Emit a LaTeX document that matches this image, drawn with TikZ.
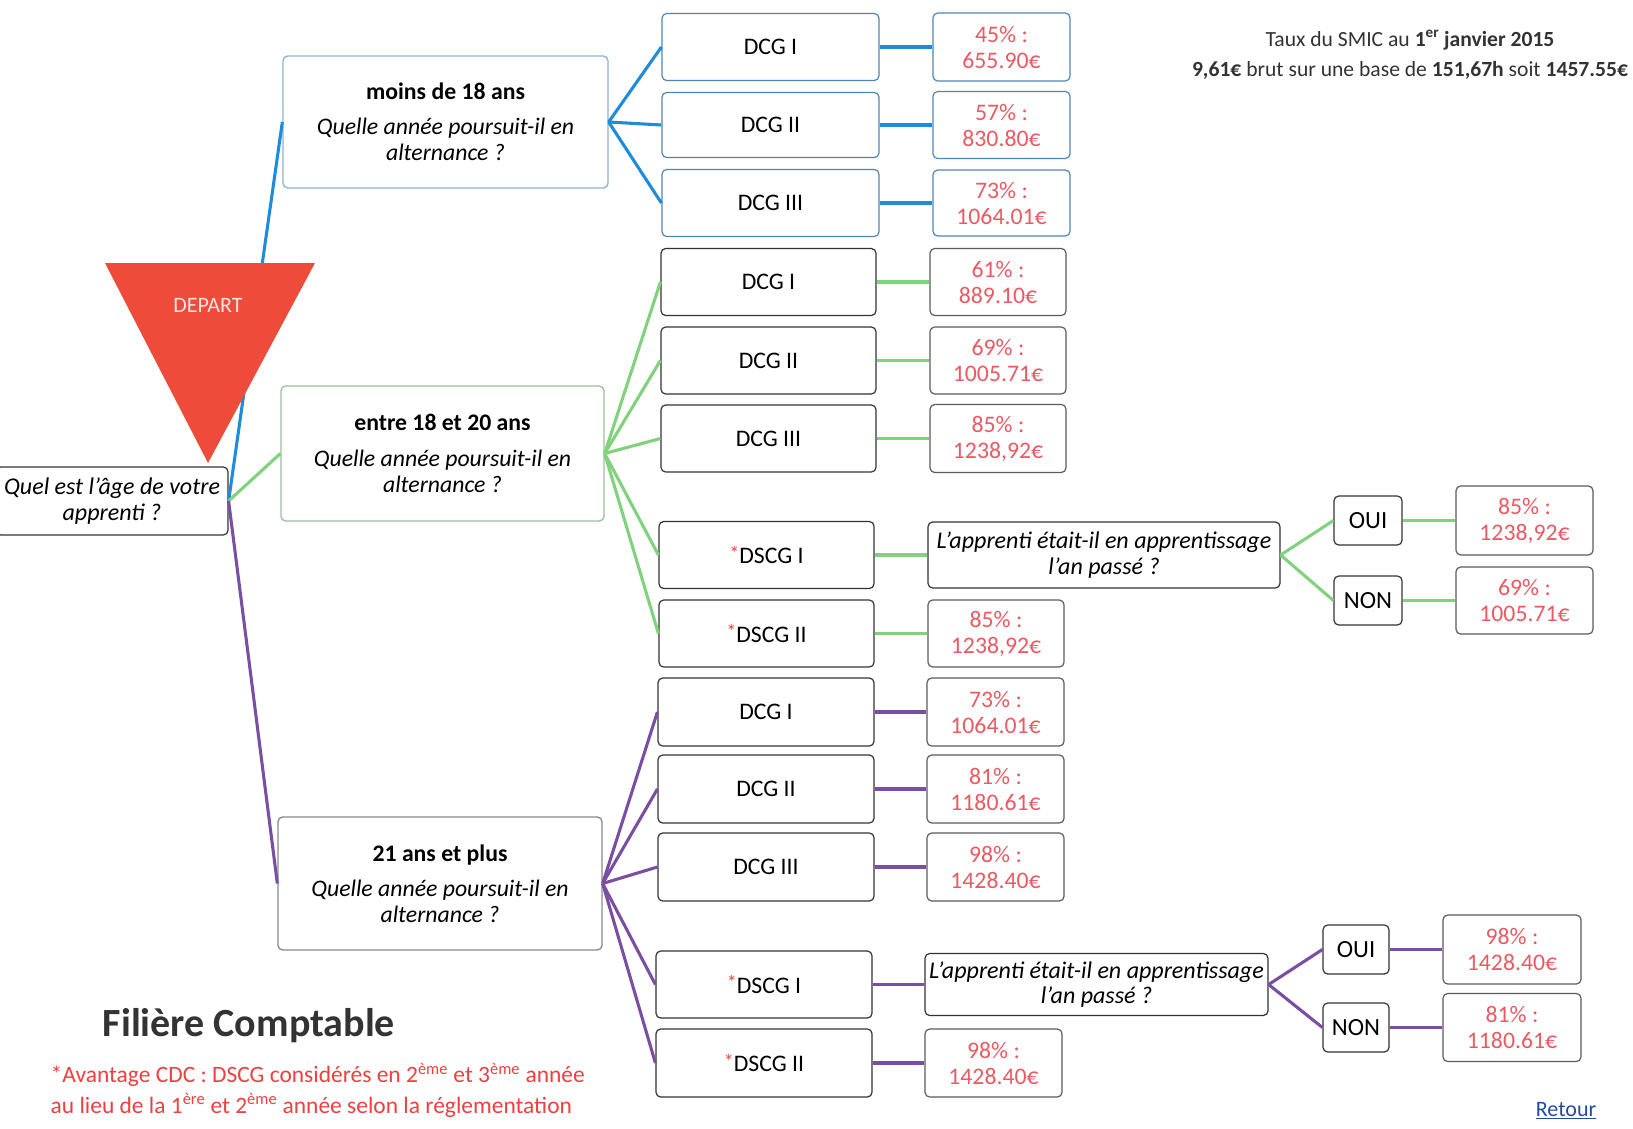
\documentclass[tikz,border=0pt]{standalone}
\usepackage{fontspec}
\setmainfont{Carlito}
\usetikzlibrary{calc}
\definecolor{cblue}{HTML}{1E8BDB}
\definecolor{cgreen}{HTML}{80D27C}
\definecolor{cpurple}{HTML}{7A4FA3}
\definecolor{cres}{HTML}{EA5A63}
\definecolor{cnote}{HTML}{EE4040}
\definecolor{ctri}{HTML}{EE4B3A}
\definecolor{bblue}{HTML}{4F86B5}
\definecolor{lblue}{HTML}{8DB3CF}
\definecolor{lgreen}{HTML}{9DBF9D}
\definecolor{lgray}{HTML}{8A8A8A}
\definecolor{dgray}{HTML}{333333}
\definecolor{cretour}{HTML}{1F4E9C}
\newcommand{\redstar}{\textcolor{cnote}{\raisebox{2.5pt}{\fontsize{15}{15}\selectfont *}}}
\begin{document}
\begin{tikzpicture}[x=0.75pt,y=-0.75pt,
  box/.style={draw=dgray, rounded corners=3.5pt, line width=0.9pt, inner sep=0pt, align=center,
    fill=white, font=\fontsize{17.8}{19.5}\selectfont},
  sz/.style 2 args={minimum width=#1*0.75pt, minimum height=#2*0.75pt},
  lvone/.style={box, line width=1pt},
  res/.style={box, text=cres, font=\fontsize{17.8}{19.5}\selectfont, draw=dgray!80},
  ynbox/.style={box, font=\fontsize{18.5}{19}\selectfont},
  qbox/.style={box, font=\itshape\fontsize{18}{19}\selectfont},
  bl/.style={draw=cblue, line width=2.3pt},
  gr/.style={draw=cgreen, line width=2.3pt},
  pu/.style={draw=cpurple, line width=2.3pt},
]
\useasboundingbox (0,0) rectangle (1633,1128);
\fill[white] (0,0) rectangle (1633,1128);

% ---------- root ----------
\node[qbox, sz={232}{68}] (root) at (112,501) {Quel est l'âge de votre\\apprenti ?};

% ---------- level 1 ----------
\node[lvone, draw=lblue, sz={325}{132}] (la) at (445.5,122)
  {\textbf{moins de 18 ans}\\[7pt]\textit{Quelle année poursuit-il en}\\\textit{alternance ?}};
\node[lvone, draw=lgreen, sz={323}{135}] (lb) at (442.5,453.5)
  {\textbf{entre 18 et 20 ans}\\[7pt]\textit{Quelle année poursuit-il en}\\\textit{alternance ?}};
\node[lvone, draw=lgray, sz={324}{133}] (lc) at (440,883.5)
  {\textbf{21 ans et plus}\\[7pt]\textit{Quelle année poursuit-il en}\\\textit{alternance ?}};

% ---------- blue group ----------
\node[box, draw=bblue, sz={217}{67}] (a1) at (770.5,47) {DCG I};
\node[box, draw=bblue, sz={217}{65}] (a2) at (770.5,125) {DCG II};
\node[box, draw=bblue, sz={217}{67}] (a3) at (770.5,203) {DCG III};
\node[res, draw=bblue, sz={137}{68}] (ra1) at (1001.5,47) {45\% :\\655.90€};
\node[res, draw=bblue, sz={137}{67}] (ra2) at (1001.5,125) {57\% :\\830.80€};
\node[res, draw=bblue, sz={137}{66}] (ra3) at (1001.5,203) {73\% :\\1064.01€};

% ---------- green group ----------
\node[box, sz={215}{67}] (b1) at (768.5,282) {DCG I};
\node[box, sz={215}{67}] (b2) at (768.5,360.5) {DCG II};
\node[box, sz={215}{67}] (b3) at (768.5,438.5) {DCG III};
\node[box, sz={215}{67}] (b4) at (766.5,555) {\redstar DSCG I};
\node[box, sz={215}{67}] (b5) at (766.5,633.5) {\redstar DSCG II};
\node[res, sz={136}{67}] (rb1) at (998,282) {61\% :\\889.10€};
\node[res, sz={136}{67}] (rb2) at (998,360.5) {69\% :\\1005.71€};
\node[res, sz={136}{68}] (rb3) at (998,438.5) {85\% :\\1238,92€};
\node[qbox, sz={352}{66}] (qb) at (1104,555) {L'apprenti était-il en apprentissage\\l'an passé ?};
\node[ynbox, sz={68}{49}] (ob) at (1368,520.5) {OUI};
\node[ynbox, sz={68}{49}] (nb) at (1368,600.5) {NON};
\node[res, sz={137}{69}] (rob) at (1524.5,520.5) {85\% :\\1238,92€};
\node[res, sz={137}{67}] (rnb) at (1524.5,600.5) {69\% :\\1005.71€};
\node[res, sz={136}{67}] (rb5) at (996,633.5) {85\% :\\1238,92€};

% ---------- purple group ----------
\node[box, sz={216}{68}] (c1) at (766,712) {DCG I};
\node[box, sz={216}{68}] (c2) at (766,789) {DCG II};
\node[box, sz={216}{68}] (c3) at (766,867) {DCG III};
\node[box, sz={216}{67}] (c4) at (764,984.5) {\redstar DSCG I};
\node[box, sz={216}{68}] (c5) at (764,1063) {\redstar DSCG II};
\node[res, sz={137}{68}] (rc1) at (995.5,712) {73\% :\\1064.01€};
\node[res, sz={137}{68}] (rc2) at (995.5,789) {81\% :\\1180.61€};
\node[res, sz={137}{68}] (rc3) at (995.5,867) {98\% :\\1428.40€};
\node[qbox, sz={343}{62}] (qc) at (1096.5,984.5) {L'apprenti était-il en apprentissage\\l'an passé ?};
\node[ynbox, sz={66}{49}] (oc) at (1356,949.5) {OUI};
\node[ynbox, sz={66}{49}] (nc) at (1356,1027.5) {NON};
\node[res, sz={138}{69}] (roc) at (1512,949.5) {98\% :\\1428.40€};
\node[res, sz={138}{68}] (rnc) at (1512,1027.5) {81\% :\\1180.61€};
\node[res, sz={137}{68}] (rc5) at (993.5,1063) {98\% :\\1428.40€};

% ---------- connectors ----------
\draw[bl] (root.east) -- (la.west);
\draw[gr] (root.east) -- (lb.west);
\draw[pu] (root.east) -- (lc.west);

\foreach \n in {a1,a2,a3} \draw[bl] (la.east) -- (\n.west);
\draw[bl] (a1.east) -- (ra1.west);
\draw[bl] (a2.east) -- (ra2.west);
\draw[bl] (a3.east) -- (ra3.west);

\foreach \n in {b1,b2,b3,b4,b5} \draw[gr] (lb.east) -- (\n.west);
\draw[gr] (b1.east) -- (rb1.west);
\draw[gr] (b2.east) -- (rb2.west);
\draw[gr] (b3.east) -- (rb3.west);
\draw[gr] (b4.east) -- (qb.west);
\draw[gr] (b5.east) -- (rb5.west);
\draw[gr] (qb.east) -- (ob.west);
\draw[gr] (qb.east) -- (nb.west);
\draw[gr] (ob.east) -- (rob.west);
\draw[gr] (nb.east) -- (rnb.west);

\foreach \n in {c1,c2,c3,c4,c5} \draw[pu] (lc.east) -- (\n.west);
\draw[pu] (c1.east) -- (rc1.west);
\draw[pu] (c2.east) -- (rc2.west);
\draw[pu] (c3.east) -- (rc3.west);
\draw[pu] (c4.east) -- (qc.west);
\draw[pu] (c5.east) -- (rc5.west);
\draw[pu] (qc.east) -- (oc.west);
\draw[pu] (qc.east) -- (nc.west);
\draw[pu] (oc.east) -- (roc.west);
\draw[pu] (nc.east) -- (rnc.west);

% ---------- DEPART triangle ----------
\fill[ctri] (105,263) -- (315,263) -- (208,463) -- cycle;
\node[text=white!85!ctri, font=\fontsize{16.5}{18}\selectfont] (dep) at (208,305) {DEPART};

% ---------- texts ----------
\node[align=center, text=dgray, font=\fontsize{16.2}{23}\selectfont] (smic) at (1410,55)
  {Taux du SMIC au \textbf{1\textsuperscript{er} janvier 2015}\\
   \textbf{9,61€} brut sur une base de \textbf{151,67h} soit \textbf{1457.55€}};
\node[text=dgray, font=\bfseries\fontsize{30}{34}\selectfont] (title) at (249,1026) {Filière Comptable};
\node[anchor=west, align=left, text=cnote, font=\fontsize{17.6}{23}\selectfont] (note) at (46,1090)
  {*Avantage CDC : DSCG considérés en 2\textsuperscript{ème} et 3\textsuperscript{ème} année\\
   au lieu de la 1\textsuperscript{ère} et 2\textsuperscript{ème} année selon la réglementation};
\node[text=cretour, font=\fontsize{16.5}{18}\selectfont] (ret) at (1566,1111) {\underline{Retour}};
\end{tikzpicture}
\end{document}
